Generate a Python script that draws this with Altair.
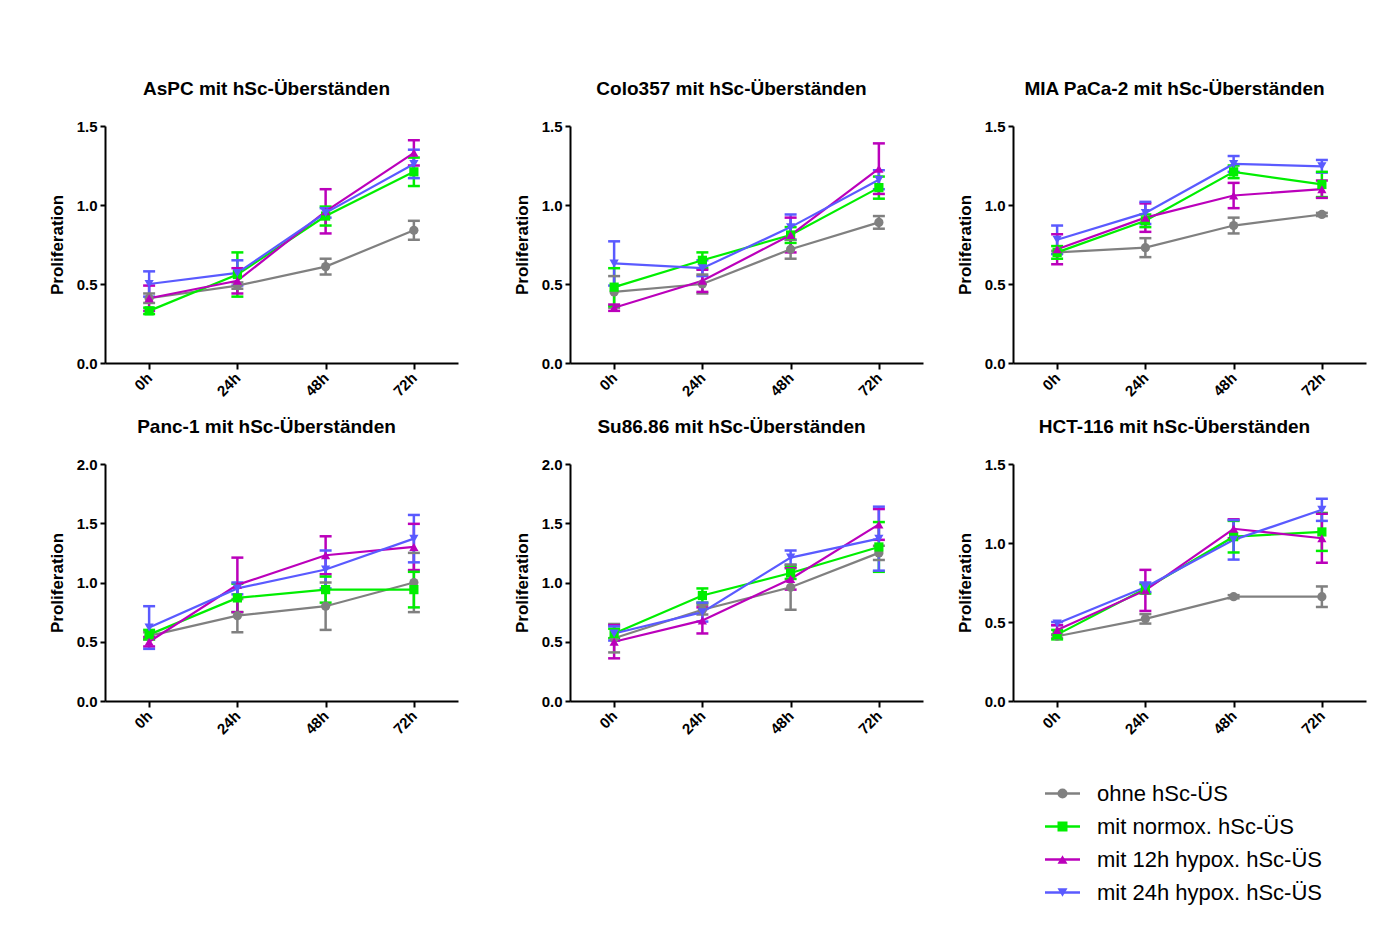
import altair as alt
import pandas as pd

times = ["0h", "24h", "48h", "72h"]
series = ["ohne hSc-ÜS", "mit normox. hSc-ÜS", "mit 12h hypox. hSc-ÜS", "mit 24h hypox. hSc-ÜS"]
colors = ["#808080", "#00ee00", "#bb00bb", "#5a5aff"]
shapes = ["circle", "square", "triangle-up", "triangle-down"]

panels = ["AsPC mit hSc-Überständen", "Colo357 mit hSc-Überständen", "MIA PaCa-2 mit hSc-Überständen",
          "Panc-1 mit hSc-Überständen", "Su86.86 mit hSc-Überständen", "HCT-116 mit hSc-Überständen"]
ymax = [1.5, 1.5, 1.5, 2.0, 2.0, 1.5]

# means per panel, per series (order of `series`), per time
aspc_mean = [[0.41, 0.49, 0.61, 0.84], [0.33, 0.56, 0.93, 1.21], [0.41, 0.52, 0.96, 1.33], [0.50, 0.57, 0.95, 1.26]]
aspc_err = [[0.03, 0.02, 0.05, 0.06], [0.02, 0.14, 0.06, 0.09], [0.08, 0.08, 0.14, 0.08], [0.08, 0.08, 0.03, 0.09]]
colo_mean = [[0.45, 0.50, 0.72, 0.89], [0.48, 0.65, 0.81, 1.11], [0.35, 0.52, 0.81, 1.23], [0.63, 0.60, 0.86, 1.16]]
colo_err = [[0.10, 0.06, 0.06, 0.04], [0.12, 0.05, 0.05, 0.07], [0.02, 0.07, 0.11, 0.16], [0.14, 0.05, 0.08, 0.06]]
mia_mean = [[0.70, 0.73, 0.87, 0.94], [0.70, 0.90, 1.21, 1.13], [0.72, 0.92, 1.06, 1.10], [0.78, 0.95, 1.26, 1.245]]
mia_err = [[0.01, 0.06, 0.05, 0.01], [0.04, 0.04, 0.04, 0.08], [0.095, 0.09, 0.08, 0.055], [0.09, 0.07, 0.05, 0.04]]
panc_mean = [[0.55, 0.72, 0.80, 1.00], [0.56, 0.87, 0.94, 0.94], [0.50, 0.98, 1.23, 1.30], [0.62, 0.95, 1.11, 1.37]]
panc_err = [[0.03, 0.14, 0.20, 0.25], [0.04, 0.12, 0.11, 0.15], [0.04, 0.23, 0.16, 0.195], [0.18, 0.05, 0.16, 0.20]]
su_mean = [[0.53, 0.77, 0.96, 1.25], [0.57, 0.89, 1.08, 1.30], [0.50, 0.68, 1.03, 1.49], [0.57, 0.75, 1.21, 1.37]]
su_err = [[0.12, 0.04, 0.19, 0.06], [0.04, 0.06, 0.05, 0.21], [0.14, 0.11, 0.09, 0.13], [0.06, 0.08, 0.06, 0.27]]
hct_mean = [[0.41, 0.52, 0.66, 0.66], [0.42, 0.71, 1.04, 1.07], [0.45, 0.70, 1.09, 1.03], [0.49, 0.72, 1.02, 1.21]]
hct_err = [[0.01, 0.03, 0.01, 0.065], [0.03, 0.03, 0.10, 0.12], [0.03, 0.13, 0.06, 0.155], [0.01, 0.03, 0.125, 0.07]]

means = [aspc_mean, colo_mean, mia_mean, panc_mean, su_mean, hct_mean]
errs = [aspc_err, colo_err, mia_err, panc_err, su_err, hct_err]

BOLD_FONT = "Liberation Sans, Arial"
W, H = 353, 237

color_scale = alt.Scale(domain=series, range=colors)
shape_scale = alt.Scale(domain=series, range=shapes)


def make_panel(i):
    rows = []
    for s_idx, s in enumerate(series):
        for t_idx, t in enumerate(times):
            m = means[i][s_idx][t_idx]
            e = errs[i][s_idx][t_idx]
            rows.append({"time": t, "series": s, "mean": m, "lo": m - e, "hi": m + e, "ord": s_idx})
    df = pd.DataFrame(rows)
    top = ymax[i]
    vals = [v * 0.5 for v in range(int(top / 0.5) + 1)]
    x = alt.X("time:N", sort=times, scale=alt.Scale(type="point", padding=0.5),
              axis=alt.Axis(title=None, labelAngle=-45, labelFont=BOLD_FONT, labelFontWeight="bold",
                            labelFontSize=15, labelColor="black", labelAlign="right", labelBaseline="middle",
                            labelPadding=6, domainColor="black", domainWidth=2, tickColor="black",
                            tickWidth=2, tickSize=6))
    yscale = alt.Scale(domain=[0, top], nice=False, zero=True)
    yaxis = alt.Axis(values=vals, format=".1f", title="Proliferation", titleFont=BOLD_FONT,
                     titleFontSize=17, titleFontWeight="bold", titleColor="black", titlePadding=10,
                     labelFont=BOLD_FONT, labelFontWeight="bold", labelFontSize=15, labelColor="black",
                     labelPadding=3, grid=False, domainColor="black", domainWidth=2,
                     tickColor="black", tickWidth=2, tickSize=5)
    color = alt.Color("series:N", scale=color_scale, legend=None)
    base = alt.Chart(df)
    rule = base.mark_rule(strokeWidth=2.5).encode(x=x, y=alt.Y("lo:Q", scale=yscale, axis=yaxis),
                                                  y2="hi:Q", color=color)
    cap_lo = base.mark_tick(thickness=2.5, size=12, orient="horizontal", opacity=1).encode(
        x=x, y=alt.Y("lo:Q", scale=yscale), color=color)
    cap_hi = base.mark_tick(thickness=2.5, size=12, orient="horizontal", opacity=1).encode(
        x=x, y=alt.Y("hi:Q", scale=yscale), color=color)
    line = base.mark_line(strokeWidth=2.2).encode(x=x, y=alt.Y("mean:Q", scale=yscale), color=color,
                                                  order="ord:Q")
    pts = base.mark_point(filled=True, size=85, opacity=1).encode(
        x=x, y=alt.Y("mean:Q", scale=yscale), color=color,
        shape=alt.Shape("series:N", scale=shape_scale, legend=None))
    return alt.layer(rule, cap_lo, cap_hi, line, pts).properties(
        width=W, height=H,
        title=alt.TitleParams(panels[i], font=BOLD_FONT, fontSize=19, fontWeight="bold", color="black",
                              frame="group", anchor="middle", dx=-15, offset=20))


p = [make_panel(i) for i in range(6)]
row1 = alt.hconcat(alt.hconcat(p[0], p[1], spacing=55), p[2], spacing=33)
row2 = alt.hconcat(alt.hconcat(p[3], p[4], spacing=55), p[5], spacing=33)

leg_df = pd.DataFrame({"series": series})
ly = alt.Y("series:N", sort=series, scale=alt.Scale(type="point", padding=0.5), axis=None)
lcolor = alt.Color("series:N", scale=color_scale, legend=None)
leg_rule = alt.Chart(leg_df).mark_rule(strokeWidth=2.5).encode(
    x=alt.value(940), x2=alt.value(975), y=ly, color=lcolor)
leg_pt = alt.Chart(leg_df).mark_point(filled=True, size=100, opacity=1).encode(
    x=alt.value(957.5), y=ly, color=lcolor, shape=alt.Shape("series:N", scale=shape_scale, legend=None))
leg_txt = alt.Chart(leg_df).mark_text(align="left", baseline="middle", font="Liberation Sans",
                                      fontSize=22, color="black").encode(
    x=alt.value(992), y=ly, text="series:N")
legend = alt.layer(leg_rule, leg_pt, leg_txt).properties(width=1240, height=132)

chart = alt.vconcat(alt.vconcat(row1, row2, spacing=19), legend, spacing=40).properties(
    padding={"left": 40, "top": 72, "right": 5, "bottom": 5}, background="white"
).configure_view(stroke=None)

chart.save("out.html", embed_options={"renderer": "svg", "actions": False})
